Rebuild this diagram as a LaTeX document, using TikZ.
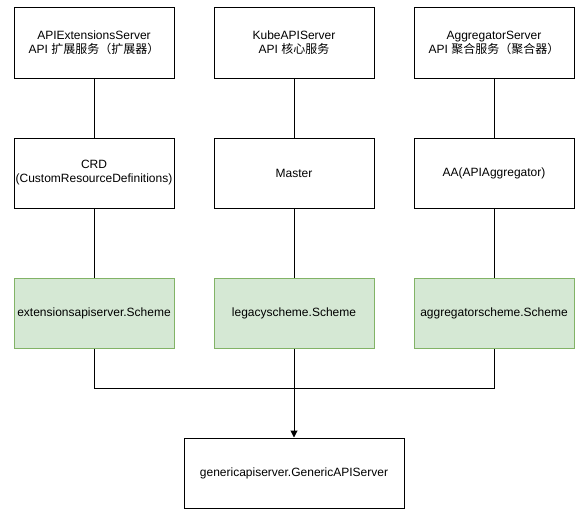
\documentclass[tikz,border=0pt]{standalone}
\usepackage{fontspec}
\setmainfont{Liberation Sans}
\newfontfamily\cjk{Noto Sans CJK SC}
\usetikzlibrary{arrows.meta}
\definecolor{gfill}{HTML}{D5E8D4}
\definecolor{gline}{HTML}{82B366}
\begin{document}
\begin{tikzpicture}[x=1pt,y=-1pt,
  box/.style={draw=black,line width=1pt,minimum width=160pt,minimum height=70pt,align=center,inner sep=0pt,font=\fontsize{12}{14}\selectfont},
  gbox/.style={box,draw=gline,fill=gfill},
  conn/.style={line width=1pt,draw=black}]
\useasboundingbox (0,0) rectangle (586,519);
\node[box] (a1) at (94,43) {APIExtensionsServer\\API {\cjk 扩展服务（扩展器）}};
\node[box] (b1) at (294,43) {KubeAPIServer\\API {\cjk 核心服务}};
\node[box] (c1) at (494,43) {AggregatorServer\\API {\cjk 聚合服务（聚合器）}};
\node[box] (a2) at (94,173) {CRD\\(CustomResourceDefinitions)};
\node[box] (b2) at (294,173) {Master};
\node[box] (c2) at (494,173) {AA(APIAggregator)};
\node[gbox] (a3) at (94,313) {extensionsapiserver.Scheme};
\node[gbox] (b3) at (294,313) {legacyscheme.Scheme};
\node[gbox] (c3) at (494,313) {aggregatorscheme.Scheme};
\node[box,minimum width=220pt] (d) at (294,473) {genericapiserver.GenericAPIServer};
\coordinate (ja) at (94,388);
\coordinate (jc) at (494,388);
\draw[conn] (a1) -- (a2);
\draw[conn] (b1) -- (b2);
\draw[conn] (c1) -- (c2);
\draw[conn] (a2) -- (a3);
\draw[conn] (b2) -- (b3);
\draw[conn] (c2) -- (c3);
\draw[conn] (a3.south) -- (ja) -- (jc) -- (c3.south);
\draw[conn,-{Triangle[length=7pt,width=7pt]}] (b3) -- (d);
\end{tikzpicture}
\end{document}
